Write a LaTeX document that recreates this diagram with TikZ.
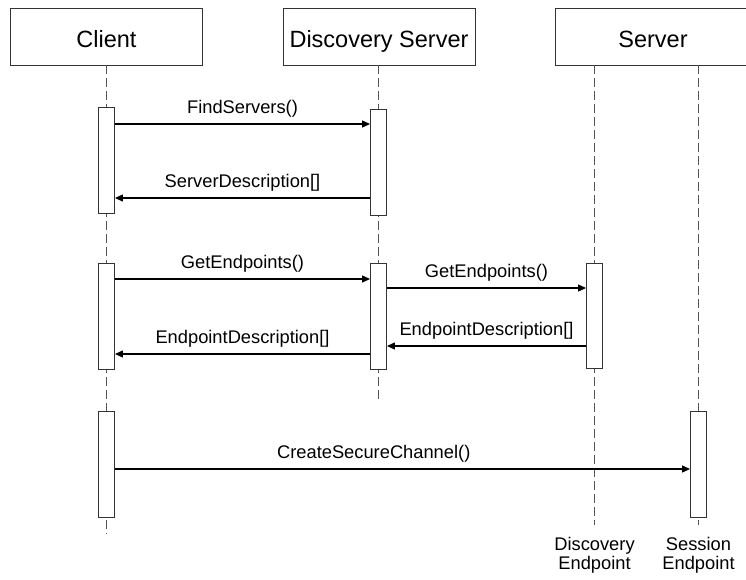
\documentclass[tikz,border=0pt]{standalone}
\usepackage{fontspec}
\setmainfont{Liberation Sans}
\usepackage{tikz}
\usetikzlibrary{arrows.meta,positioning}
\usepackage{xcolor}
\definecolor{seqline}{HTML}{333333}
\definecolor{seqdash}{HTML}{555555}
\newcommand{\headfont}{\fontsize{23.5}{28}\selectfont}
\newcommand{\msgfont}{\fontsize{18.3}{19.5}\selectfont}
\tikzset{
  headbox/.style={
    draw=seqline,
    fill=white,
    line width=0.9pt,
    minimum height=57pt,
    inner sep=0pt,
    text height=21pt,
    text depth=0pt,
    font=\headfont
  },
  actbar/.style={
    draw=seqline,
    fill=white,
    line width=0.9pt,
    minimum width=16pt,
    minimum height=106pt,
    inner sep=0pt
  },
  lifeline/.style={
    draw=seqdash,
    line width=0.8pt,
    dash pattern=on 9pt off 4pt
  },
  msg/.style={
    -{Triangle[length=8pt,width=7pt]},
    line width=1.2pt,
    draw=black
  },
  msglabel/.style={
    midway,
    anchor=base,
    yshift=11pt,
    inner sep=0pt,
    font=\msgfont
  },
  endlabel/.style={
    inner sep=0pt,
    align=center,
    font=\msgfont
  }
}

\begin{document}
\begin{tikzpicture}[x=1pt,y=-1pt]
\clip (0,0) rectangle (746,579);
% lifeline heads
\node[headbox, minimum width=192pt] (client) at (106.5,36.5) {Client};
\node[headbox, minimum width=192pt] (disc) at (379,36.5) {Discovery Server};
\node[headbox, minimum width=196pt] (server) at (653,36.5) {Server};
% lifeline ends
\coordinate (cend) at (106.5,534);
\coordinate (dsend) at (378.5,400);
\coordinate (dend) at (594.5,525);
\coordinate (send) at (698.5,525);
\draw[lifeline] (client.south) -- (cend);
\draw[lifeline] (disc.south -| dsend) -- (dsend);
\draw[lifeline] (server.south -| dend) -- (dend);
\draw[lifeline] (server.south -| send) -- (send);
% activations
\node[actbar] (cbar1) at (106.5,160) {};
\node[actbar] (dbar1) at (378.5,162) {};
\node[actbar] (cbar2) at (106.5,316) {};
\node[actbar] (dbar2) at (378.5,316) {};
\node[actbar, minimum height=105pt] (ebar2) at (594.5,315.5) {};
\node[actbar] (cbar3) at (106.5,464) {};
\node[actbar] (sbar3) at (698.5,464) {};
% messages
\draw[msg] (cbar1.east |- 0,124) -- node[msglabel] {FindServers()} (dbar1.west |- 0,124);
\draw[msg] (dbar1.west |- 0,198) -- node[msglabel] {ServerDescription[]} (cbar1.east |- 0,198);
\draw[msg] (cbar2.east |- 0,279) -- node[msglabel] {GetEndpoints()} (dbar2.west |- 0,279);
\draw[msg] (dbar2.east |- 0,288) -- node[msglabel] {GetEndpoints()} (ebar2.west |- 0,288);
\draw[msg] (ebar2.west |- 0,346) -- node[msglabel] {EndpointDescription[]} (dbar2.east |- 0,346);
\draw[msg] (dbar2.west |- 0,354) -- node[msglabel] {EndpointDescription[]} (cbar2.east |- 0,354);
\draw[msg] (cbar3.east |- 0,469) -- node[msglabel, pos=0.45] {CreateSecureChannel()} (sbar3.west |- 0,469);
% endpoint names
\node[endlabel, below=12pt of dend] (dname) {Discovery\\Endpoint};
\node[endlabel, below=12pt of send] (sname) {Session\\Endpoint};
\end{tikzpicture}
\end{document}
